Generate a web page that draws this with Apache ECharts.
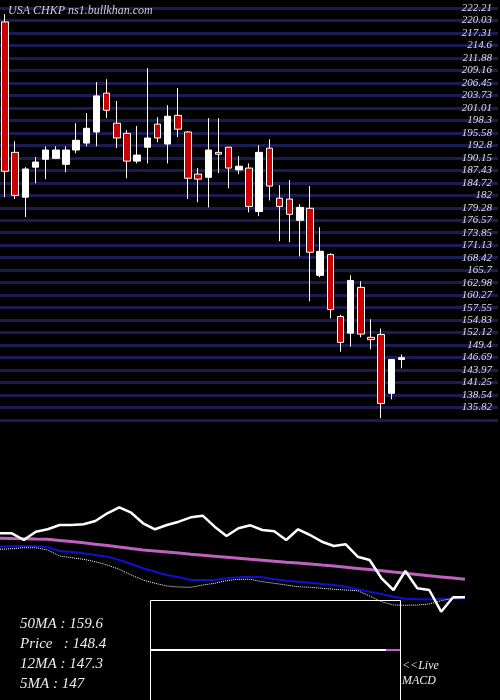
<!DOCTYPE html>
<html>
<head>
<meta charset="utf-8">
<script src="https://cdn.jsdelivr.net/npm/echarts@6/dist/echarts.min.js"></script>
<style>
  html, body { margin: 0; padding: 0; background: #000; }
  #chart { width: 500px; height: 700px; }
</style>
</head>
<body>
<div id="chart"></div>
<script>
// candles: [open, close, low, high]
const candles = [
  [219.2, 186.9, 181.3, 220.9],
  [191.0, 181.7, 180.9, 193.4],
  [181.3, 187.4, 177.0, 187.8],
  [187.8, 188.9, 184.3, 190.0],
  [189.5, 191.5, 185.2, 192.3],
  [189.7, 191.5, 189.7, 192.3],
  [188.4, 191.5, 186.7, 192.3],
  [191.5, 193.6, 190.8, 197.3],
  [193.0, 196.2, 192.3, 199.5],
  [195.4, 203.2, 192.3, 206.2],
  [203.8, 200.1, 198.4, 206.8],
  [197.3, 194.1, 191.9, 202.1],
  [195.1, 189.1, 185.4, 195.8],
  [189.1, 190.4, 188.6, 196.7],
  [192.1, 194.1, 188.6, 209.2],
  [197.1, 194.1, 193.2, 198.6],
  [192.8, 198.8, 188.6, 201.2],
  [199.0, 196.0, 194.3, 204.9],
  [195.4, 185.4, 180.9, 195.6],
  [186.3, 185.2, 180.2, 187.6],
  [185.6, 191.5, 179.1, 198.4],
  [191.0, 190.6, 186.5, 198.4],
  [192.1, 187.6, 183.2, 192.1],
  [187.2, 188.0, 186.3, 190.2],
  [187.6, 179.3, 178.0, 188.6],
  [178.2, 191.0, 177.2, 192.5],
  [191.9, 183.7, 180.6, 193.8],
  [181.1, 179.3, 171.8, 183.9],
  [180.9, 177.6, 171.6, 185.0],
  [176.3, 179.1, 168.5, 179.8],
  [178.9, 169.4, 158.8, 183.7],
  [164.4, 169.6, 164.0, 174.8],
  [168.9, 157.0, 155.1, 169.2],
  [155.5, 149.9, 147.9, 155.9],
  [151.9, 163.3, 149.0, 164.4],
  [161.8, 151.7, 151.0, 163.1],
  [151.0, 150.5, 148.4, 154.9],
  [151.6, 136.7, 133.5, 152.9],
  [138.9, 146.2, 137.6, 146.2],
  [146.2, 146.6, 144.3, 147.3]
];
// price tick labels, top to bottom
const priceLabels = ['222.21', '220.03', '217.31', '214.6', '211.88', '209.16', '206.45', '203.73', '201.01',
  '198.3', '195.58', '192.8', '190.15', '187.43', '184.72', '182', '179.28', '176.57', '173.85', '171.13',
  '168.42', '165.7', '162.98', '160.27', '157.55', '154.83', '152.12', '149.4', '146.69', '143.97', '141.25',
  '138.54', '135.82'];
const priceMax = 222.21;
const priceMin = 135.82;

// indicator panel (unitless)
const whiteLine = [86.7, 86.7, 80, 88.3, 90.7, 95, 95, 95.7, 99, 106.7, 112.7, 107.3, 96.7, 90.7, 95, 98.3,
  102.7, 104.3, 93.3, 84, 91.7, 94.7, 90, 88.7, 80, 90.7, 85, 78.3, 74, 75.7, 63.3, 60, 41.7, 30, 49, 31.7,
  30, 8.3, 22.7, 22.7];
const pinkLine = [81.7, 81.4, 81.2, 80.9, 80.7, 79.6, 78.4, 77.3, 75.8, 74.4, 72.9, 71.5, 70, 69, 68, 66.9,
  65.8, 64.8, 63.7, 62.7, 61.7, 60.7, 59.8, 58.8, 57.8, 56.9, 55.9, 54.9, 54, 52.8, 51.6, 50.4, 49.2, 47.9,
  46.7, 45.5, 44.3, 43.1, 41.9, 40.7];
const blueLine = [73.3, 73.7, 74, 74, 72.7, 69, 68, 66.7, 65, 63.3, 60, 56, 51.7, 48.3, 45, 42.7, 40, 40, 40,
  41.7, 42.7, 43.3, 42.7, 40.7, 39.3, 38.3, 37.3, 36, 35, 33.3, 30.7, 28.3, 26, 23.3, 21.3, 20.7, 20.7, 21,
  21.3, 21.7];
const dottedLine = [70.7, 71.3, 72.3, 72.3, 70, 64, 62.3, 60.7, 58.3, 55, 50.7, 45, 40, 36.7, 34, 33, 32.7, 35,
  36.7, 39.3, 40.7, 40.7, 38.3, 36.7, 35, 33.3, 32.7, 31.7, 30.7, 30, 29.3, 24, 18.3, 15, 14.7, 15, 16, 19.3,
  21.7, 22.7];

const infoLines = ['50MA : 159.6', 'Price   : 148.4', '12MA : 147.3', '5MA : 147'];

const step = (priceMax - priceMin) / 32;
const cats = [];
for (let i = 0; i < 49; i++) cats.push(i);
const ind = [];
for (let i = 0; i < 40; i++) ind.push(i);

const chart = echarts.init(document.getElementById('chart'));
const serif = 'Liberation Serif';
chart.setOption({
  backgroundColor: '#000',
  animation: false,
  grid: [
    { left: -1, top: 8, width: 499, height: 412 },
    { left: 0, top: 490, width: 465, height: 130 }
  ],
  xAxis: [
    { type: 'category', data: cats, gridIndex: 0, show: false },
    { type: 'category', data: ind, gridIndex: 1, show: false, boundaryGap: false }
  ],
  yAxis: [
    {
      type: 'value', gridIndex: 0, position: 'right',
      min: priceMin - step, max: priceMax, interval: step,
      axisLine: { show: false }, axisTick: { show: false },
      splitLine: { lineStyle: { color: '#1c1c55', width: 3 } },
      axisLabel: {
        inside: true, margin: 6, color: '#ddd', fontFamily: serif, fontStyle: 'italic', fontSize: 11,
        formatter: v => {
          const i = Math.round((priceMax - v) / step);
          return i >= 0 && i < priceLabels.length ? priceLabels[i] : '';
        }
      }
    },
    { type: 'value', gridIndex: 1, min: 0, max: 130, show: false }
  ],
  series: [
    {
      type: 'candlestick', xAxisIndex: 0, yAxisIndex: 0, data: candles, barWidth: 7,
      itemStyle: { color: '#fff', color0: '#cc0000', borderColor: '#fff', borderColor0: '#fff', borderWidth: 1 }
    },
    { type: 'line', xAxisIndex: 1, yAxisIndex: 1, data: pinkLine, symbol: 'none',
      lineStyle: { color: '#c060c0', width: 3 } },
    { type: 'line', xAxisIndex: 1, yAxisIndex: 1, data: blueLine, symbol: 'none',
      lineStyle: { color: '#1010d0', width: 2 } },
    { type: 'line', xAxisIndex: 1, yAxisIndex: 1, data: dottedLine, symbol: 'none',
      lineStyle: { color: '#fff', width: 1, type: 'dotted' } },
    { type: 'line', xAxisIndex: 1, yAxisIndex: 1, data: whiteLine, symbol: 'none',
      lineStyle: { color: '#fff', width: 2.5 } }
  ],
  graphic: [
    { type: 'text', left: 8, top: 5, z: 100, style: { text: 'USA CHKP ns1.bullkhan.com', fill: '#ccc',
      font: 'italic 12px "Liberation Serif"' } },
    { type: 'rect', shape: { x: 150.5, y: 600.5, width: 250, height: 110 },
      style: { fill: '#000', stroke: '#fff', lineWidth: 1 } },
    { type: 'line', shape: { x1: 151, y1: 650, x2: 386, y2: 650 }, style: { stroke: '#fff', lineWidth: 2 } },
    { type: 'line', shape: { x1: 386, y1: 650, x2: 400, y2: 650 }, style: { stroke: '#c060c0', lineWidth: 2 } },
    ...infoLines.map((t, i) => ({ type: 'text', left: 20, top: 617 + i * 20,
      style: { text: t, fill: '#eee', font: 'italic 15px "Liberation Serif"' } })),
    { type: 'text', left: 402, top: 660, style: { text: '<<Live', fill: '#eee', font: 'italic 12px "Liberation Serif"' } },
    { type: 'text', left: 402, top: 675, style: { text: 'MACD', fill: '#eee', font: 'italic 12px "Liberation Serif"' } }
  ]
});
</script>
</body>
</html>
